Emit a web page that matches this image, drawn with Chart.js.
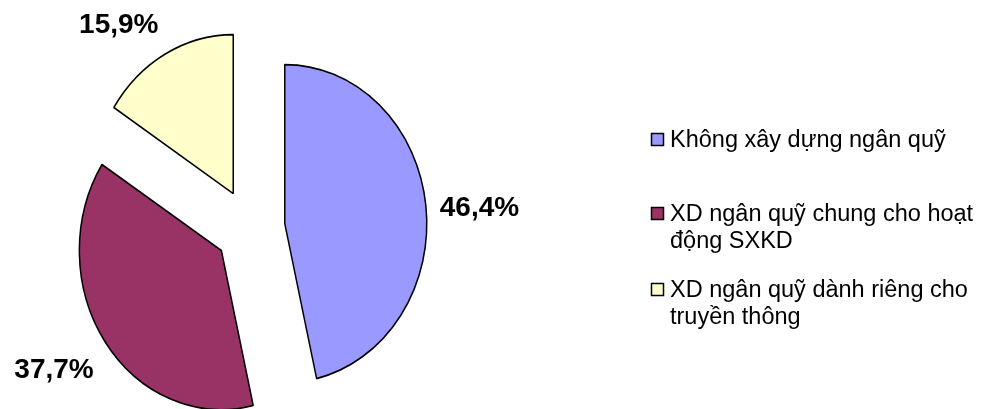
<!DOCTYPE html>
<html>
<head>
<meta charset="utf-8">
<script src="https://cdn.jsdelivr.net/npm/chart.js@4"></script>
<style>
    body { margin: 0; background: #fff; }
</style>
</head>
<body>
<canvas id="pie-chart" width="983" height="409"></canvas>
<script>
"use strict";

// slice data
var categories = ["Không xây dựng ngân quỹ", "XD ngân quỹ chung cho hoạt động SXKD", "XD ngân quỹ dành riêng cho truyền thông"];
var legendLines = [["Không xây dựng ngân quỹ"], ["XD ngân quỹ chung cho hoạt", "động SXKD"], ["XD ngân quỹ dành riêng cho", "truyền thông"]];
var shares = [46.4, 37.7, 15.9];
var sliceColors = ["#9999FF", "#993366", "#FFFFCC"];

var explodePx = 35;
var stretchY = 1.12;

function fmt(v) {
    return v.toFixed(1).replace(".", ",") + "%";
}

// exploded, slightly tall pie: each arc is pushed out along its middle angle
var explodedPie = {
    id: "explodedPie",
    beforeDatasetDraw: function (chart, args) {
        var ctx = chart.ctx;
        var arcs = args.meta.data;
        ctx.save();
        ctx.translate(arcs[0].x, arcs[0].y);
        ctx.scale(1, stretchY);
        ctx.translate(-arcs[0].x, -arcs[0].y);
        arcs.forEach(function (arc) {
            var mid = (arc.startAngle + arc.endAngle) / 2;
            ctx.save();
            ctx.translate(Math.cos(mid) * explodePx, Math.sin(mid) * explodePx);
            arc.draw(ctx, chart.chartArea);
            ctx.restore();
        });
        ctx.restore();
        return false;
    }
};

// percentage labels outside each slice
var sliceLabels = {
    id: "sliceLabels",
    afterDraw: function (chart) {
        var ctx = chart.ctx;
        var meta = chart.getDatasetMeta(0);
        ctx.save();
        ctx.font = "bold 28px 'Liberation Sans', Arial, sans-serif";
        ctx.fillStyle = "#000";
        ctx.textBaseline = "middle";
        meta.data.forEach(function (arc, i) {
            var mid = (arc.startAngle + arc.endAngle) / 2;
            var c = Math.cos(mid), s = Math.sin(mid);
            var d = explodePx + arc.outerRadius + 14;
            var ax = arc.x + c * d;
            var ay = arc.y + s * d * stretchY + 6;
            var ty;
            if (s > 0.5) {
                ty = ay + 13;
            } else if (s < -0.5) {
                ty = ay - 21;
            } else {
                ty = ay + s * 13;
            }
            ctx.textAlign = c >= 0 ? "left" : "right";
            ctx.fillText(fmt(shares[i]), ax, ty);
        });
        ctx.restore();
    }
};

// legend on the right side
var sideLegend = {
    id: "sideLegend",
    afterDraw: function (chart) {
        var ctx = chart.ctx;
        var tops = [133, 207, 283];
        ctx.save();
        ctx.font = "23.5px 'Liberation Sans', Arial, sans-serif";
        ctx.textBaseline = "alphabetic";
        ctx.textAlign = "left";
        legendLines.forEach(function (lines, i) {
            ctx.fillStyle = sliceColors[i];
            ctx.fillRect(651.5, tops[i] + 0.5, 12, 12);
            ctx.strokeStyle = "#000";
            ctx.lineWidth = 1.5;
            ctx.strokeRect(651.5, tops[i] + 0.5, 12, 12);
            ctx.fillStyle = "#000";
            lines.forEach(function (t, j) {
                ctx.fillText(t, 670, tops[i] + 14 + j * 27);
            });
        });
        ctx.restore();
    }
};

var pieData = {
    labels: categories,
    datasets: [{
        data: shares,
        backgroundColor: sliceColors,
        borderColor: "#000",
        borderWidth: 1.5,
        radius: 142
    }]
};

var myPie = new Chart(document.getElementById("pie-chart"), {
    type: "pie",
    data: pieData,
    options: {
        responsive: false,
        animation: false,
        layout: {
            padding: { left: 0, right: 483, top: 47, bottom: 0 }
        },
        plugins: {
            legend: { display: false },
            tooltip: { enabled: false }
        }
    },
    plugins: [explodedPie, sliceLabels, sideLegend]
});
</script>
</body>
</html>
